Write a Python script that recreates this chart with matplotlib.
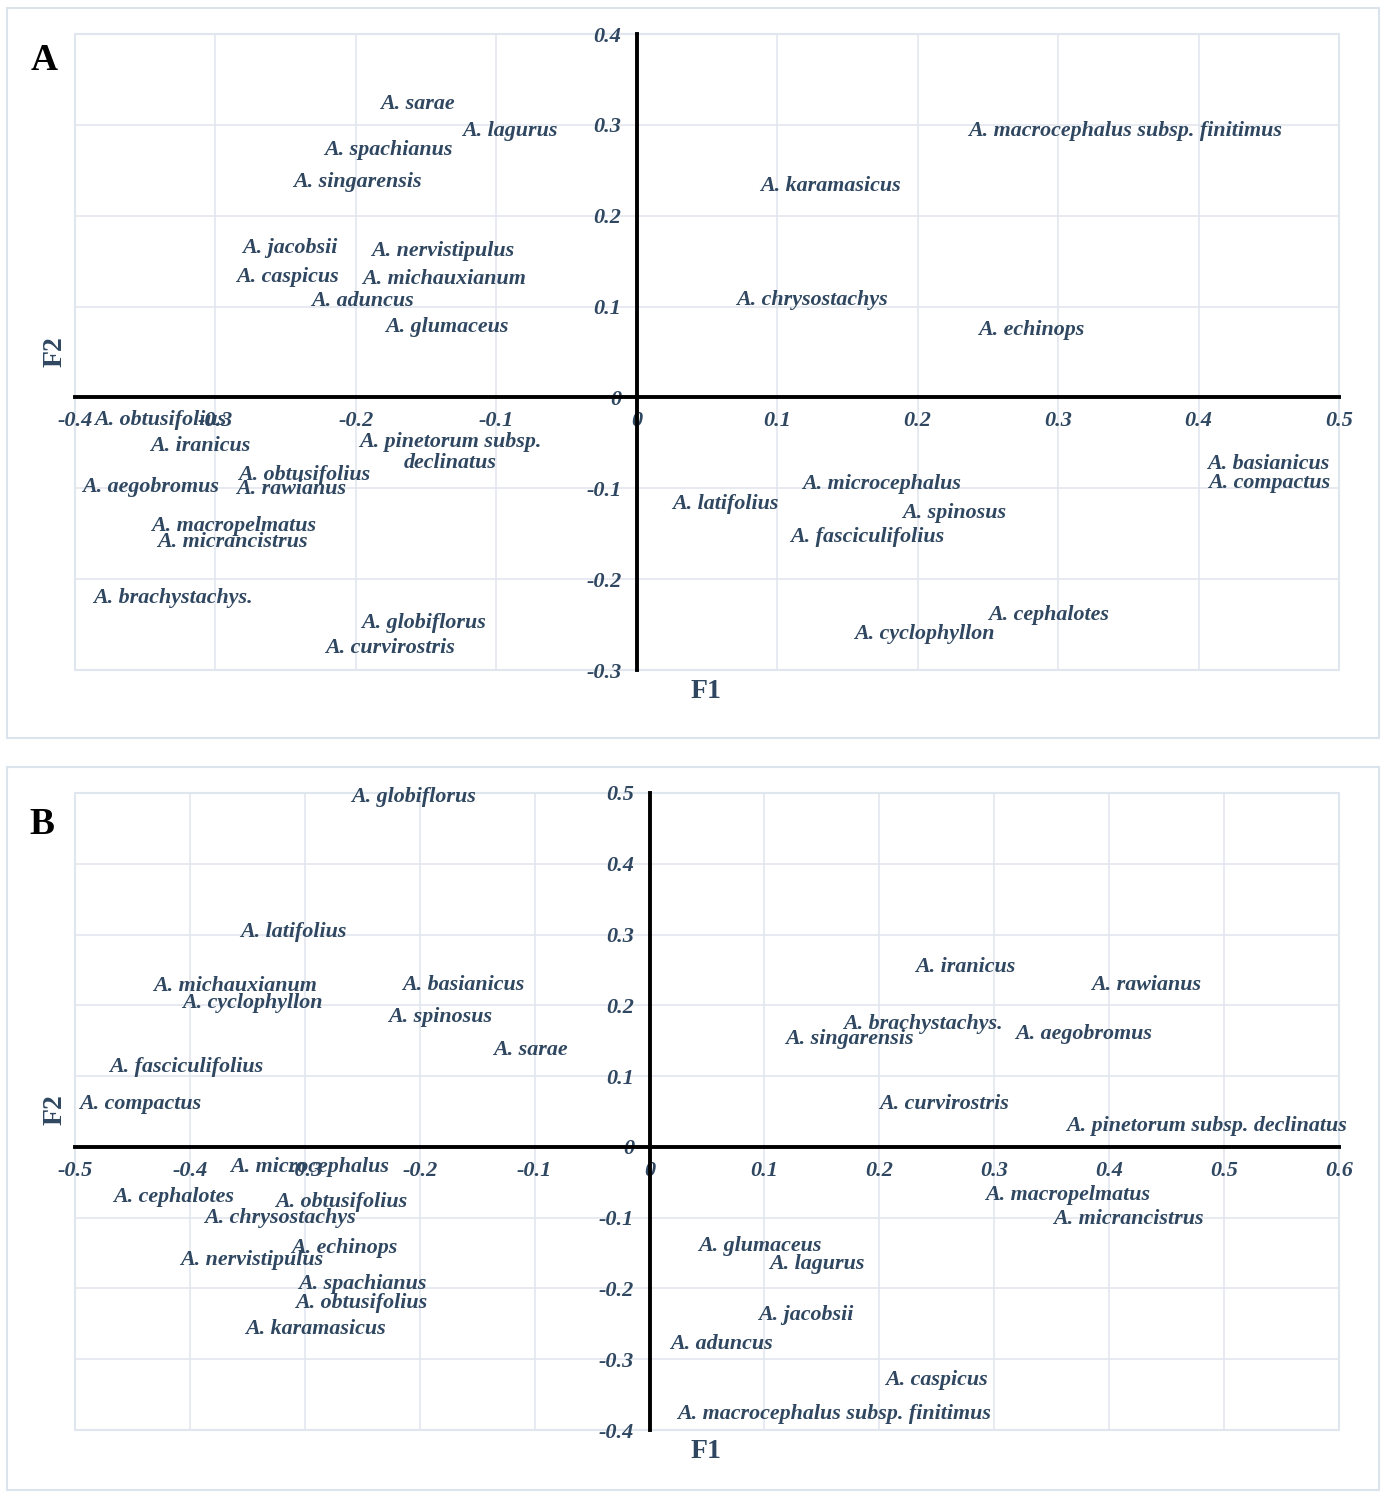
import matplotlib
matplotlib.use("Agg")
import matplotlib.pyplot as plt
from matplotlib.patches import Rectangle

# panel A: F1 / F2 coordinates of each species label
names_a = ["A. sarae", "A. lagurus", "A. spachianus", "A. singarensis", "A. jacobsii",
           "A. nervistipulus", "A. caspicus", "A. michauxianum", "A. aduncus", "A. glumaceus",
           "A. karamasicus", "A. macrocephalus subsp. finitimus", "A. chrysostachys", "A. echinops",
           "A. obtusifolius", "A. iranicus", "A. aegobromus", "A. obtusifolius", "A. rawianus",
           "A. pinetorum subsp.\ndeclinatus", "A. macropelmatus", "A. micrancistrus",
           "A. brachystachys.", "A. globiflorus", "A. curvirostris", "A. latifolius",
           "A. microcephalus", "A. spinosus", "A. fasciculifolius", "A. basianicus",
           "A. compactus", "A. cephalotes", "A. cyclophyllon"]
f1_a = [-0.156, -0.090, -0.177, -0.199, -0.247, -0.138, -0.249, -0.137, -0.195, -0.135,
        0.138, 0.348, 0.125, 0.281,
        -0.339, -0.311, -0.346, -0.237, -0.246, -0.133, -0.287, -0.288,
        -0.330, -0.152, -0.176, 0.063, 0.174, 0.226, 0.164, 0.450, 0.450, 0.293, 0.205]
f2_a = [0.323, 0.293, 0.272, 0.237, 0.164, 0.161, 0.132, 0.130, 0.106, 0.078,
        0.233, 0.293, 0.107, 0.074,
        -0.025, -0.054, -0.099, -0.085, -0.101, -0.061, -0.141, -0.159,
        -0.221, -0.248, -0.276, -0.117, -0.095, -0.127, -0.154, -0.073, -0.094, -0.239, -0.260]
xticks_a = [-0.4, -0.3, -0.2, -0.1, 0, 0.1, 0.2, 0.3, 0.4, 0.5]
yticks_a = [-0.3, -0.2, -0.1, 0, 0.1, 0.2, 0.3, 0.4]

# panel B
names_b = ["A. globiflorus", "A. latifolius", "A. michauxianum", "A. cyclophyllon", "A. basianicus",
           "A. spinosus", "A. sarae", "A. fasciculifolius", "A. compactus", "A. iranicus",
           "A. rawianus", "A. brachystachys.", "A. singarensis", "A. aegobromus", "A. curvirostris",
           "A. pinetorum subsp. declinatus", "A. microcephalus", "A. cephalotes", "A. obtusifolius",
           "A. chrysostachys", "A. echinops", "A. nervistipulus", "A. spachianus", "A. obtusifolius",
           "A. karamasicus", "A. macropelmatus", "A. micrancistrus", "A. glumaceus", "A. lagurus",
           "A. jacobsii", "A. aduncus", "A. caspicus", "A. macrocephalus subsp. finitimus"]
f1_b = [-0.205, -0.310, -0.361, -0.346, -0.162, -0.182, -0.104, -0.403, -0.443, 0.275,
        0.432, 0.238, 0.174, 0.378, 0.256, 0.485, -0.296, -0.414, -0.268,
        -0.322, -0.266, -0.346, -0.250, -0.251, -0.291, 0.364, 0.417, 0.096, 0.146,
        0.136, 0.063, 0.250, 0.161]
f2_b = [0.494, 0.303, 0.228, 0.204, 0.229, 0.183, 0.137, 0.113, 0.061, 0.254,
        0.229, 0.174, 0.152, 0.160, 0.061, 0.030, -0.028, -0.071, -0.078,
        -0.101, -0.143, -0.160, -0.194, -0.220, -0.258, -0.068, -0.102, -0.140, -0.166,
        -0.238, -0.278, -0.329, -0.378]
xticks_b = [-0.5, -0.4, -0.3, -0.2, -0.1, 0, 0.1, 0.2, 0.3, 0.4, 0.5, 0.6]
yticks_b = [-0.4, -0.3, -0.2, -0.1, 0, 0.1, 0.2, 0.3, 0.4, 0.5]

TXT = "#2f4760"
GRID = "#e0e6ed"
FONT = "Liberation Serif"

W, H = 1387, 1492
fig = plt.figure(figsize=(W / 100, H / 100), dpi=100)


def fx(px):
    return px / W


def fy(py):
    return 1 - py / H


def panel(box, frame, names, xs, ys, xticks, yticks, letter, letter_pos, f1_pos, f2_pos):
    l, t, r, b = box
    ax = fig.add_axes([fx(l), fy(b), fx(r) - fx(l), fy(t) - fy(b)])
    ax.set_xlim(xticks[0], xticks[-1])
    ax.set_ylim(yticks[0], yticks[-1])
    ax.set_xticks(xticks)
    ax.set_yticks(yticks)
    ax.set_xticklabels(["%g" % v for v in xticks])
    ax.set_yticklabels(["%g" % v for v in yticks])
    ax.grid(True, color=GRID, lw=1.1)
    ax.set_axisbelow(True)
    for s in ["top", "right"]:
        ax.spines[s].set_visible(False)
    for s in ["left", "bottom"]:
        ax.spines[s].set_position("zero")
        ax.spines[s].set_linewidth(2.8)
        ax.spines[s].set_color("black")
        ax.spines[s].set_zorder(3)
    ax.add_patch(Rectangle((0, 0), 1, 1, transform=ax.transAxes, fill=False,
                           ec=GRID, lw=1.5, zorder=0.5, clip_on=False))
    ax.tick_params(length=0, labelsize=16, labelcolor=TXT)
    ax.tick_params(axis="x", pad=10)
    ax.tick_params(axis="y", pad=11)
    for lab in ax.get_xticklabels() + ax.get_yticklabels():
        lab.set_fontfamily(FONT)
        lab.set_fontweight("bold")
        lab.set_fontstyle("italic")
    ax.set_facecolor("none")

    for name, x, y in zip(names, xs, ys):
        ax.text(x, y, name, ha="center", va="center", multialignment="center",
                fontsize=15.8, fontfamily=FONT, fontweight="bold", fontstyle="italic",
                color=TXT, linespacing=1.05, zorder=4)

    fig.text(fx(f1_pos[0]), fy(f1_pos[1]), "F1", ha="center", va="center",
             fontsize=20, fontfamily=FONT, fontweight="bold", color=TXT)
    fig.text(fx(f2_pos[0]), fy(f2_pos[1]), "F2", ha="center", va="center", rotation=90,
             fontsize=20, fontfamily=FONT, fontweight="bold", color=TXT)
    fig.text(fx(letter_pos[0]), fy(letter_pos[1]), letter, ha="center", va="center",
             fontsize=27, fontfamily=FONT, fontweight="bold", color="black",
             bbox=dict(fc="white", ec="none", pad=6))

    fl, ft, fr, fb = frame
    fig.patches.append(Rectangle((fx(fl), fy(fb)), fx(fr) - fx(fl), fy(ft) - fy(fb),
                                 transform=fig.transFigure, fill=False, ec="#dbe4ec", lw=1.5))
    return ax


panel((75, 34, 1339, 670), (7, 8, 1379, 738), names_a, f1_a, f2_a, xticks_a, yticks_a,
      "A", (44, 61), (706, 691), (55, 352))
panel((75, 793, 1339, 1430), (7, 767, 1379, 1490), names_b, f1_b, f2_b, xticks_b, yticks_b,
      "B", (42, 825), (706, 1451), (55, 1110))

fig.savefig("out.png", dpi=100)
